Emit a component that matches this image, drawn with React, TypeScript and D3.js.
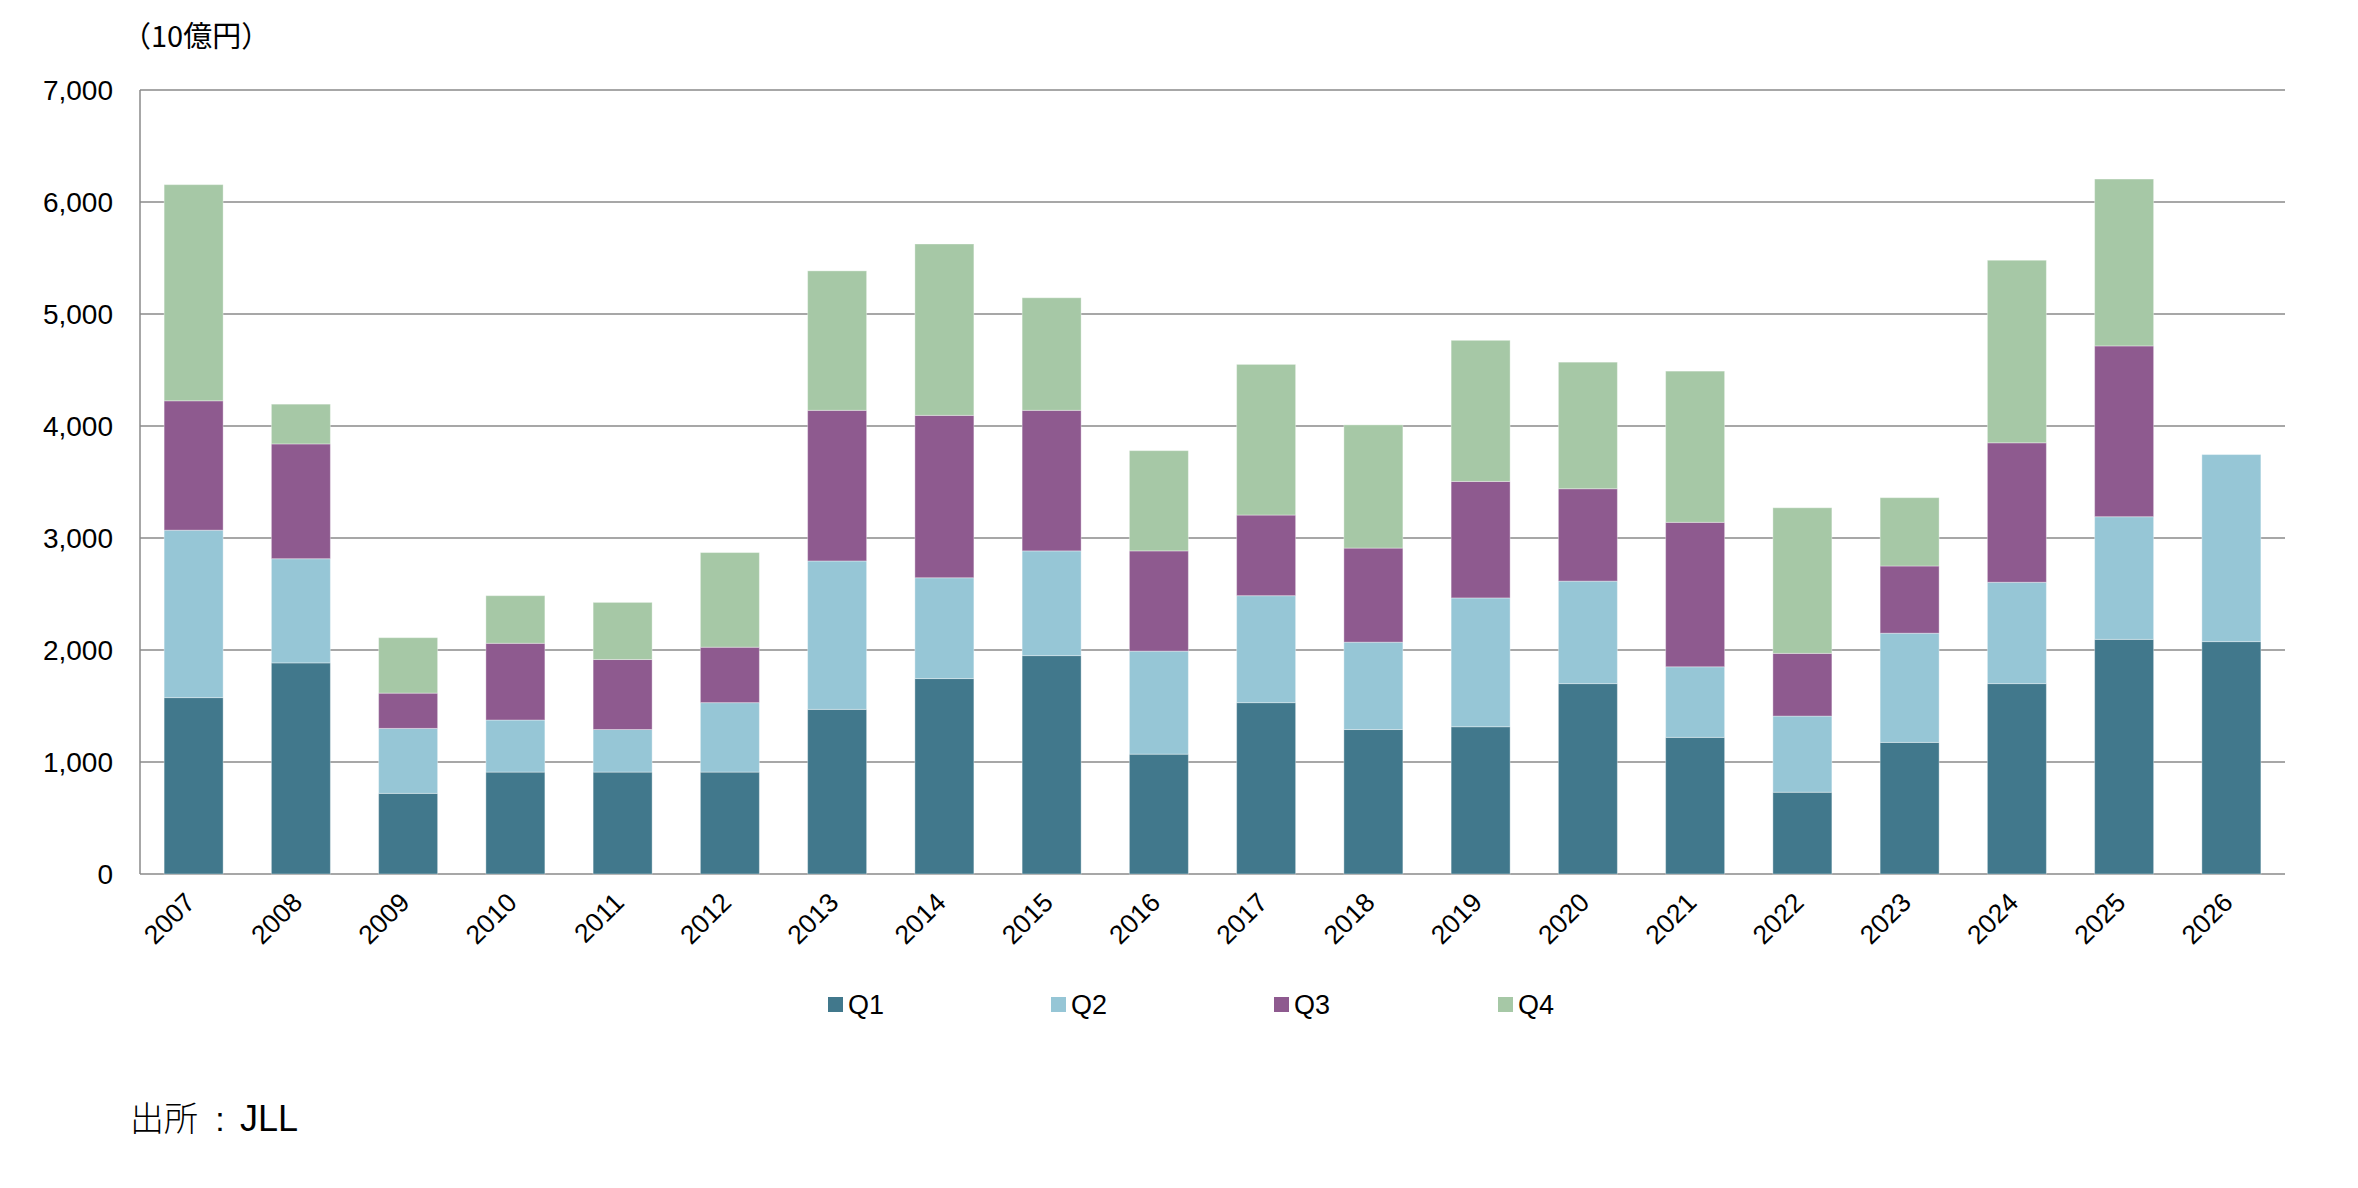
import React from "react";
import * as d3 from "d3";

const years = ["2007","2008","2009","2010","2011","2012","2013","2014","2015","2016","2017","2018","2019","2020","2021","2022","2023","2024","2025","2026"];
const q1 = [1575,1885,720,910,910,910,1470,1745,1950,1070,1530,1290,1315,1700,1220,730,1175,1700,2095,2075];
const q2 = [1495,930,580,465,380,620,1325,900,935,920,955,780,1150,915,630,680,975,905,1095,1670];
const q3 = [1155,1025,315,685,625,495,1345,1450,1255,895,720,840,1040,825,1290,560,600,1245,1525,0];
const q4 = [1930,355,495,425,510,845,1245,1530,1005,895,1345,1100,1260,1130,1350,1300,610,1630,1490,0];
const seriesNames = ["Q1","Q2","Q3","Q4"];
const seriesColors = ["#41788C","#96C6D6","#8E5A8F","#A6C8A6"];
const yTicks = [0,1000,2000,3000,4000,5000,6000,7000];

const W = 2358, H = 1188;
const left = 140, right = 2285, top = 90, bottom = 874;
const latin = "'Liberation Sans', Arial, 'Noto Sans CJK JP', sans-serif";
const cjk = "'Noto Sans CJK JP', 'Liberation Sans', sans-serif";

export default function App() {
  const rows = years.map((y, i) => ({ year: y, Q1: q1[i], Q2: q2[i], Q3: q3[i], Q4: q4[i] }));
  const stacked = d3.stack<any>().keys(seriesNames)(rows);
  const x = d3.scaleBand<string>().domain(years).range([left, right]).paddingInner(0.45).paddingOuter(0.225);
  const y = d3.scaleLinear().domain([0, 7000]).range([bottom, top]);
  const fmt = d3.format(",");
  const legendX = [828, 1051, 1274, 1498];
  const legendY = 1005;

  return (
    <svg width={W} height={H} style={{ position: "absolute", left: 0, top: 0, background: "#fff" }}>
      <rect x={0} y={0} width={W} height={H} fill="#fff" />
      {yTicks.map((t) => (
        <line key={"g" + t} x1={left} x2={right} y1={y(t)} y2={y(t)} stroke="#8a8a8a" strokeWidth={1.5} />
      ))}
      <line x1={left} x2={left} y1={top} y2={bottom} stroke="#8a8a8a" strokeWidth={1.5} />
      {stacked.map((s, si) => (
        <g key={s.key} fill={seriesColors[si]}>
          {s.map((d, i) =>
            d[1] - d[0] > 0 ? (
              <rect key={i} x={x(years[i])} width={x.bandwidth()} y={y(d[1])} height={y(d[0]) - y(d[1])}
                stroke="#ffffff" strokeOpacity={0.35} strokeWidth={1} />
            ) : null
          )}
        </g>
      ))}
      {yTicks.map((t) => (
        <text key={"t" + t} x={113} y={y(t) + 10} textAnchor="end" fontFamily={latin} fontSize={28} fill="#000">{fmt(t)}</text>
      ))}
      {years.map((yr) => {
        const cx = (x(yr) as number) + x.bandwidth() / 2 + 3;
        const cy = bottom + 30;
        return (
          <text key={"x" + yr} x={cx} y={cy} transform={`rotate(-45 ${cx} ${cy})`} textAnchor="end" fontFamily={latin} fontSize={26.5} fill="#000">{yr}</text>
        );
      })}
      <text x={122} y={47} fontFamily={cjk} fontSize={29} fill="#000">（10億円）</text>
      {seriesNames.map((n, i) => (
        <g key={"l" + n}>
          <rect x={legendX[i]} y={legendY - 8} width={15} height={15} fill={seriesColors[i]} />
          <text x={legendX[i] + 20} y={legendY + 9} fontFamily={latin} fontSize={27} fill="#000">{n}</text>
        </g>
      ))}
      <text x={130} y={1131} fontSize={34} fontFamily={cjk} fontWeight={300} fill="#000">出所</text>
      <text x={220} y={1131} fontSize={34} fontFamily={latin} textAnchor="middle" fill="#000">:</text>
      <text x={240} y={1131} fontSize={36} fontFamily={latin} fill="#000">JLL</text>
    </svg>
  );
}
